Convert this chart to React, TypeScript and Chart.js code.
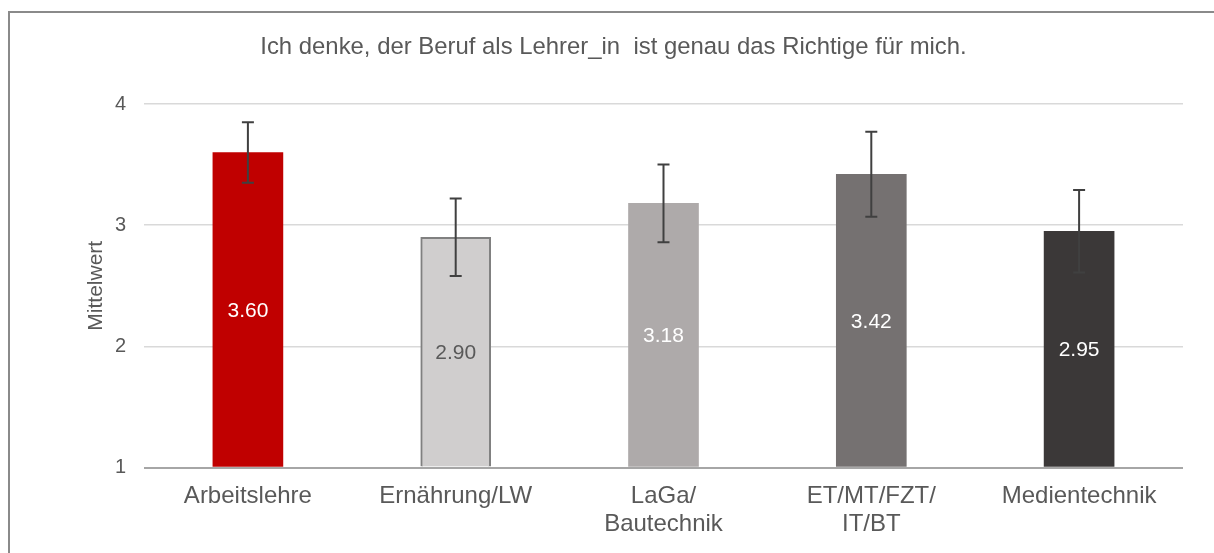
import React, { useEffect, useRef } from "react";
import { Chart, registerables } from "chart.js";

Chart.register(...registerables);

const categories: (string | string[])[] = [
  "Arbeitslehre",
  "Ernährung/LW",
  ["LaGa/", "Bautechnik"],
  ["ET/MT/FZT/", "IT/BT"],
  "Medientechnik",
];
const meanValues = [3.6, 2.9, 3.18, 3.42, 2.95];
const errorValues = [0.25, 0.32, 0.32, 0.35, 0.34];
const barColors = ["#c00000", "#d0cece", "#aeaaaa", "#757171", "#3b3838"];
const barBorderColors = ["#c00000", "#808080", "#aeaaaa", "#757171", "#3b3838"];
const barBorderWidths = [0, 2, 0, 0, 0];
const labelColors = ["#ffffff", "#595959", "#ffffff", "#ffffff", "#ffffff"];
const yMin = 1;
const yMax = 4;
const titleText = "Ich denke, der Beruf als Lehrer_in  ist genau das Richtige für mich.";
const axisTitleText = "Mittelwert";

const FONT = "'Liberation Sans', Arial, sans-serif";
const TEXT = "#595959";

const overlayPlugin = {
  id: "overlay",
  beforeDraw(chart: any) {
    const ctx = chart.ctx;
    ctx.save();
    ctx.fillStyle = "#ffffff";
    ctx.fillRect(0, 0, chart.width, chart.height);
    ctx.strokeStyle = "#8a8a8a";
    ctx.lineWidth = 2;
    ctx.beginPath();
    ctx.moveTo(9, chart.height + 5);
    ctx.lineTo(9, 12);
    ctx.lineTo(chart.width + 5, 12);
    ctx.stroke();
    // title
    ctx.fillStyle = TEXT;
    ctx.font = `23.9px ${FONT}`;
    ctx.textAlign = "center";
    ctx.textBaseline = "alphabetic";
    ctx.fillText(titleText, 613.5, 53.5);
    // axis title
    const area = chart.chartArea;
    ctx.translate(101.5, (area.top + area.bottom) / 2);
    ctx.rotate(-Math.PI / 2);
    ctx.font = `21px ${FONT}`;
    ctx.fillText(axisTitleText, 0, 0);
    ctx.restore();
  },
  afterDatasetsDraw(chart: any) {
    const ctx = chart.ctx;
    const meta = chart.getDatasetMeta(0);
    const y = chart.scales.y;
    ctx.save();
    meta.data.forEach((bar: any, i: number) => {
      const x = bar.x;
      const top = y.getPixelForValue(meanValues[i] + errorValues[i]);
      const bot = y.getPixelForValue(meanValues[i] - errorValues[i]);
      ctx.strokeStyle = "#404040";
      ctx.lineWidth = 2;
      ctx.beginPath();
      ctx.moveTo(x, top);
      ctx.lineTo(x, bot);
      ctx.moveTo(x - 6, top);
      ctx.lineTo(x + 6, top);
      ctx.moveTo(x - 6, bot);
      ctx.lineTo(x + 6, bot);
      ctx.stroke();
    });
    const basePx = y.getPixelForValue(yMin);
    meta.data.forEach((bar: any, i: number) => {
      const mid = (bar.y + basePx) / 2;
      ctx.fillStyle = labelColors[i];
      ctx.font = `21px ${FONT}`;
      ctx.textAlign = "center";
      ctx.textBaseline = "middle";
      ctx.fillText(meanValues[i].toFixed(2), bar.x, mid + 1);
    });
    ctx.restore();
  },
};

export default function App() {
  const ref = useRef<HTMLCanvasElement | null>(null);
  useEffect(() => {
    if (!ref.current) return;
    const chart = new Chart(ref.current, {
      type: "bar",
      data: {
        labels: categories as any,
        datasets: [
          {
            data: meanValues,
            base: yMin,
            backgroundColor: barColors,
            borderColor: barBorderColors,
            borderWidth: barBorderWidths,
            barThickness: 70,
            borderSkipped: "bottom",
          } as any,
        ],
      },
      options: {
        animation: false,
        responsive: false,
        devicePixelRatio: 1,
        layout: { padding: { top: 104, right: 31, left: 0, bottom: 0 } },
        plugins: {
          legend: { display: false },
          title: { display: false },
          tooltip: { enabled: false },
        },
        scales: {
          x: {
            grid: { display: false, drawTicks: false },
            border: { display: false },
            ticks: {
              color: TEXT,
              font: { family: FONT, size: 24, lineHeight: 1.15 },
              padding: 15,
              maxRotation: 0,
              autoSkip: false,
            },
            afterFit: (s: any) => {
              s.height = 85.5;
            },
          },
          y: {
            min: yMin,
            max: yMax,
            grid: {
              drawTicks: false,
              color: (c: any) => (c.tick && c.tick.value === yMin ? "#a6a6a6" : "#d9d9d9"),
              lineWidth: (c: any) => (c.tick && c.tick.value === yMin ? 2 : 1.5),
            },
            border: { display: false },
            ticks: {
              stepSize: 1,
              color: TEXT,
              font: { family: FONT, size: 20 },
              padding: 18,
            },
            afterFit: (s: any) => {
              s.width = 144;
            },
          },
        },
      },
      plugins: [overlayPlugin],
    });
    return () => chart.destroy();
  }, []);
  return (
    <div style={{ position: "fixed", left: 0, top: 0, width: 1214, height: 553, overflow: "hidden", background: "#fff" }}>
      <canvas ref={ref} width={1214} height={553} style={{ width: 1214, height: 553, display: "block" }} />
    </div>
  );
}
